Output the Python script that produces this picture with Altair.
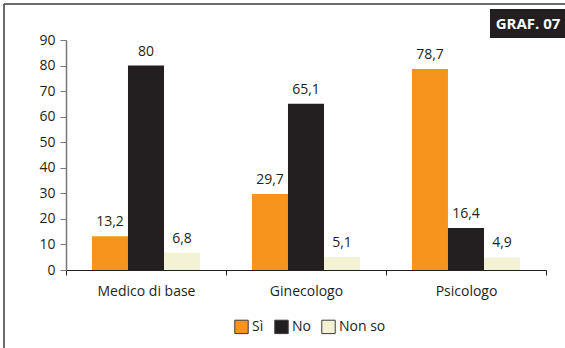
import altair as alt
import pandas as pd

# Survey answers by professional figure (percentages)
categories = ["Medico di base", "Ginecologo", "Psicologo"]
answers = ["Sì", "No", "Non so"]
si_values = [13.2, 29.7, 78.7]
no_values = [80.0, 65.1, 16.4]
nonso_values = [6.8, 5.1, 4.9]
colors = ["#F7941D", "#231F20", "#F3F2D5"]
y_ticks = [0, 10, 20, 30, 40, 50, 60, 70, 80, 90]

rows = []
for i, cat in enumerate(categories):
    for ans, vals in zip(answers, [si_values, no_values, nonso_values]):
        v = vals[i]
        label = f"{v:g}".replace(".", ",")
        rows.append({"figura": cat, "risposta": ans, "valore": v, "etichetta": label})
df = pd.DataFrame(rows)

FONT = "Open Sans"

base = alt.Chart(df).encode(
    x=alt.X(
        "figura:N",
        sort=categories,
        title=None,
        scale=alt.Scale(paddingInner=0, paddingOuter=0),
        axis=alt.Axis(
            labelAngle=0,
            tickBand="extent",
            tickSize=5,
            tickColor="#231F20",
            domainColor="#231F20",
            domainWidth=1.2,
            labelPadding=9,
            labelFontSize=14,
            labelColor="#231F20",
            labelFont=FONT,
        ),
    ),
    xOffset=alt.XOffset(
        "risposta:N",
        sort=answers,
        scale=alt.Scale(paddingOuter=0.72, paddingInner=0),
    ),
    y=alt.Y(
        "valore:Q",
        title=None,
        scale=alt.Scale(domain=[0, 90], nice=False),
        axis=alt.Axis(
            values=y_ticks,
            grid=False,
            tickSize=6,
            tickColor="#777777",
            domainColor="#777777",
            domainWidth=1.5,
            labelPadding=5,
            labelFontSize=14,
            labelColor="#231F20",
            labelFont=FONT,
        ),
    ),
)

bars = base.mark_bar().encode(
    color=alt.Color(
        "risposta:N",
        sort=answers,
        scale=alt.Scale(domain=answers, range=colors),
        legend=alt.Legend(
            title=None,
            orient="none",
            direction="horizontal",
            legendX=168,
            legendY=279,
            symbolType="square",
            symbolSize=180,
            symbolStrokeColor="#3a3a3a",
            symbolStrokeWidth=1,
            labelFontSize=14,
            labelFont=FONT,
            labelColor="#231F20",
            labelOffset=3,
            columnPadding=8,
        ),
    )
)

labels = base.mark_text(
    baseline="bottom", dy=-7, fontSize=14, font=FONT, color="#231F20"
).encode(text="etichetta:N")

# Outer frame: left and top border lines
frame_left = alt.Chart(pd.DataFrame({"k": [0]})).mark_rule(
    color="#3a3a3a", strokeWidth=1.5
).encode(x=alt.value(-62), y=alt.value(-36), y2=alt.value(320))

frame_top = alt.Chart(pd.DataFrame({"k": [0]})).mark_rule(
    color="#3a3a3a", strokeWidth=1.5
).encode(x=alt.value(-62), x2=alt.value(510), y=alt.value(-36))

# Chart number badge
badge_box = alt.Chart(pd.DataFrame({"k": [0]})).mark_rect(color="#231F20").encode(
    x=alt.value(424), x2=alt.value(510), y=alt.value(-31), y2=alt.value(-2)
)
badge_text = alt.Chart(pd.DataFrame({"t": ["GRAF. 07"]})).mark_text(
    color="white", fontSize=15, fontWeight="bold", font=FONT, align="center", baseline="middle"
).encode(text="t:N", x=alt.value(462), y=alt.value(-16))

chart = (
    alt.layer(bars, labels, frame_left, frame_top, badge_box, badge_text)
    .properties(
        width=480,
        height=230,
        autosize=alt.AutoSizeParams(type="none"),
        padding={"left": 66, "top": 40, "right": 19, "bottom": 78},
        background="white",
    )
    .configure_view(stroke=None)
)

chart.save("out.html", embed_options={"renderer": "svg", "actions": False})
